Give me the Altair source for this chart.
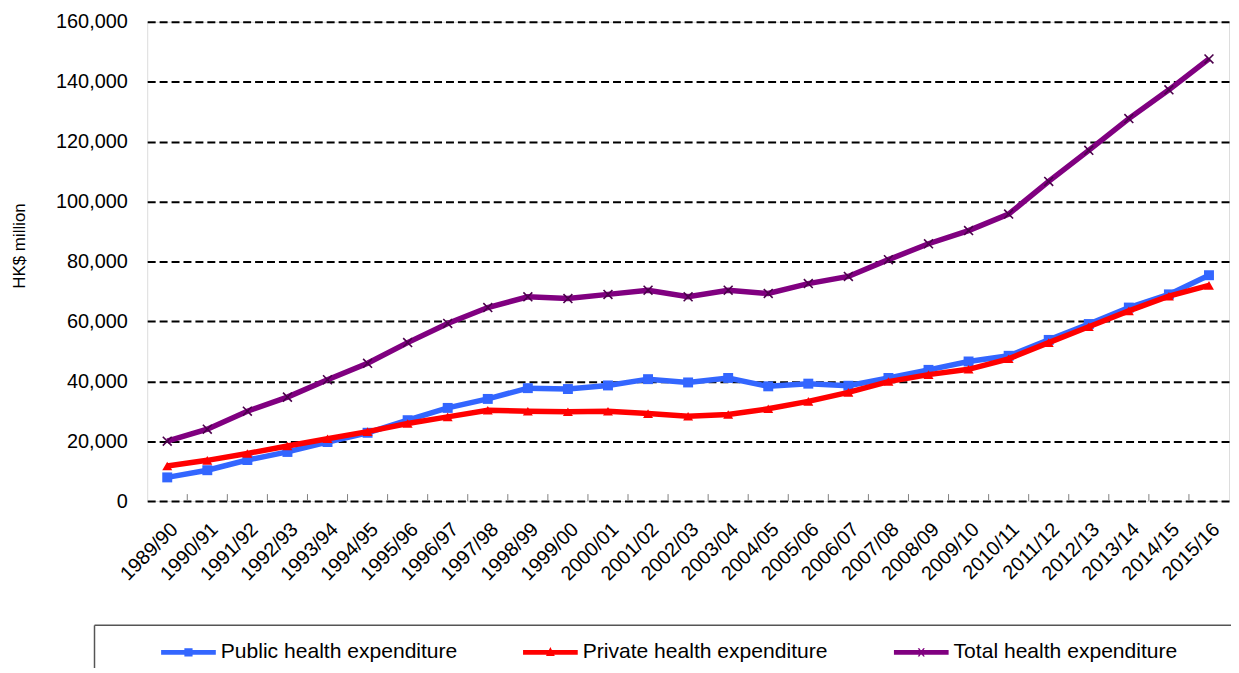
import altair as alt
import pandas as pd

years = ["1989/90", "1990/91", "1991/92", "1992/93", "1993/94", "1994/95", "1995/96",
         "1996/97", "1997/98", "1998/99", "1999/00", "2000/01", "2001/02", "2002/03",
         "2003/04", "2004/05", "2005/06", "2006/07", "2007/08", "2008/09", "2009/10",
         "2010/11", "2011/12", "2012/13", "2013/14", "2014/15", "2015/16"]

public = [7900, 10300, 13700, 16400, 19700, 22800, 27000, 31100, 34100, 37700, 37400,
          38600, 40700, 39600, 41100, 38300, 39200, 38500, 41100, 43800, 46600, 48500,
          53800, 59100, 64600, 69000, 75400]

private = [11700, 13600, 15900, 18400, 20800, 23200, 25900, 28100, 30300, 30000, 29800,
           30000, 29200, 28300, 28900, 30800, 33300, 36300, 39900, 42200, 44000, 47500,
           52900, 58200, 63500, 68400, 72000]

total = [20000, 24000, 30000, 34700, 40500, 46000, 52900, 59300, 64600, 68200, 67600,
         69000, 70400, 68200, 70400, 69300, 72600, 75000, 80600, 85900, 90300, 95800,
         106700, 117100, 127700, 137300, 147600]

series_names = ["Public health expenditure", "Private health expenditure", "Total health expenditure"]
series_colors = ["#3366FF", "#FF0000", "#800080"]
y_ticks = [0, 20000, 40000, 60000, 80000, 100000, 120000, 140000, 160000]

rows = []
for name, vals in zip(series_names, [public, private, total]):
    for yr, v in zip(years, vals):
        rows.append({"year": yr, "series": name, "value": v})
df = pd.DataFrame(rows)

W, H = 1088, 482
step = W / len(years)
FONT = "Liberation Sans, Arial, sans-serif"

x_enc = alt.X("year:N", sort=years, scale=alt.Scale(type="point", padding=0.5),
              axis=alt.Axis(title=None, labelAngle=315, labelAlign="right", labelBaseline="top",
                            labelFontSize=20, labelPadding=18, labelColor="black", labelFont=FONT,
                            ticks=False, tickSize=0, domain=False, grid=False, labelOverlap=False))
y_enc = alt.Y("value:Q", scale=alt.Scale(domain=[0, 160000], nice=False, zero=True),
              axis=alt.Axis(title="HK$ million", values=y_ticks, format=",d",
                            labelFontSize=20, labelPadding=20, labelColor="black", labelFont=FONT,
                            domain=False, ticks=False, grid=True, gridColor="black",
                            gridDash=[8, 4], gridWidth=2,
                            titleFontSize=17, titleFontWeight="normal", titleColor="black",
                            titleFont=FONT, titleAngle=270, titleX=-128, titleY=225,
                            titleAlign="center", titleBaseline="middle"))

base = alt.Chart(df)
layers = []

# ticks at category boundaries (inside the plot)
tick_df = pd.DataFrame({"year": years[1:]})
layers.append(
    alt.Chart(tick_df).mark_rule(xOffset=-step / 2, color="#808080", strokeWidth=1).encode(
        x=x_enc, y=alt.value(H - 7), y2=alt.value(H))
)

x_path = "M-1,-1L1,1M-1,1L1,-1"
marker_specs = [
    dict(shape="square", filled=True, size=100, strokeWidth=0),
    dict(shape="triangle-up", filled=True, size=100, strokeWidth=0),
    dict(shape=x_path, filled=False, size=80, strokeWidth=1.6),
]

for name, col, spec in zip(series_names, series_colors, marker_specs):
    sub = base.transform_filter(alt.datum.series == name)
    layers.append(sub.mark_line(strokeWidth=5.5, color=col).encode(x=x_enc, y=y_enc))
    if spec["filled"]:
        layers.append(sub.mark_point(shape=spec["shape"], filled=True, size=spec["size"],
                                     opacity=1, strokeWidth=0, color=col).encode(x=x_enc, y=y_enc))
    else:
        layers.append(sub.mark_point(shape=spec["shape"], filled=False, size=spec["size"],
                                     opacity=1, strokeWidth=spec["strokeWidth"],
                                     color="#4B004B").encode(x=x_enc, y=y_enc))

# legend symbols: line segment with marker
legend_paths = [
    "M-1,-0.09H1V0.09H-1Z M-0.15,-0.15H0.15V0.15H-0.15Z",
    "M-1,-0.09H1V0.09H-1Z M0,-0.2L0.16,0.13H-0.16Z",
    "M-1,-0.09H1V0.09H-1Z M-0.13,-0.15L-0.07,-0.15L0,-0.05L0.07,-0.15L0.13,-0.15L0.03,0L0.13,0.15L0.07,0.15L0,0.05L-0.07,0.15L-0.13,0.15L-0.03,0Z",
]
leg = alt.Legend(title=None, orient="none", legendX=14, legendY=606.5, direction="horizontal",
                 columns=3, symbolSize=3025, symbolStrokeWidth=0, labelFontSize=21.2,
                 labelFont=FONT, labelColor="black", labelOffset=5, columnPadding=66,
                 labelLimit=400, padding=0)
layers.append(
    base.transform_filter("false").mark_point(filled=True, opacity=1).encode(
        color=alt.Color("series:N", scale=alt.Scale(domain=series_names, range=series_colors),
                        legend=leg),
        shape=alt.Shape("series:N", scale=alt.Scale(domain=series_names, range=legend_paths),
                        legend=leg))
)

# legend frame lines
frame_df = pd.DataFrame({"a": [0]})
layers.append(alt.Chart(frame_df).mark_rule(color="#555555", strokeWidth=1.5).encode(
    x=alt.value(-53), x2=alt.value(1200), y=alt.value(607)))
layers.append(alt.Chart(frame_df).mark_rule(color="#555555", strokeWidth=1.5).encode(
    x=alt.value(-53), y=alt.value(607), y2=alt.value(700)))

chart = alt.layer(*layers).properties(
    width=W, height=H,
    padding={"left": 140, "top": 12, "right": 2, "bottom": 166},
    autosize=alt.AutoSizeParams(type="none"),
).configure_view(stroke="black", strokeWidth=2.5).configure(background="white")

chart.save("out.html", embed_options={"renderer": "svg", "actions": False})
